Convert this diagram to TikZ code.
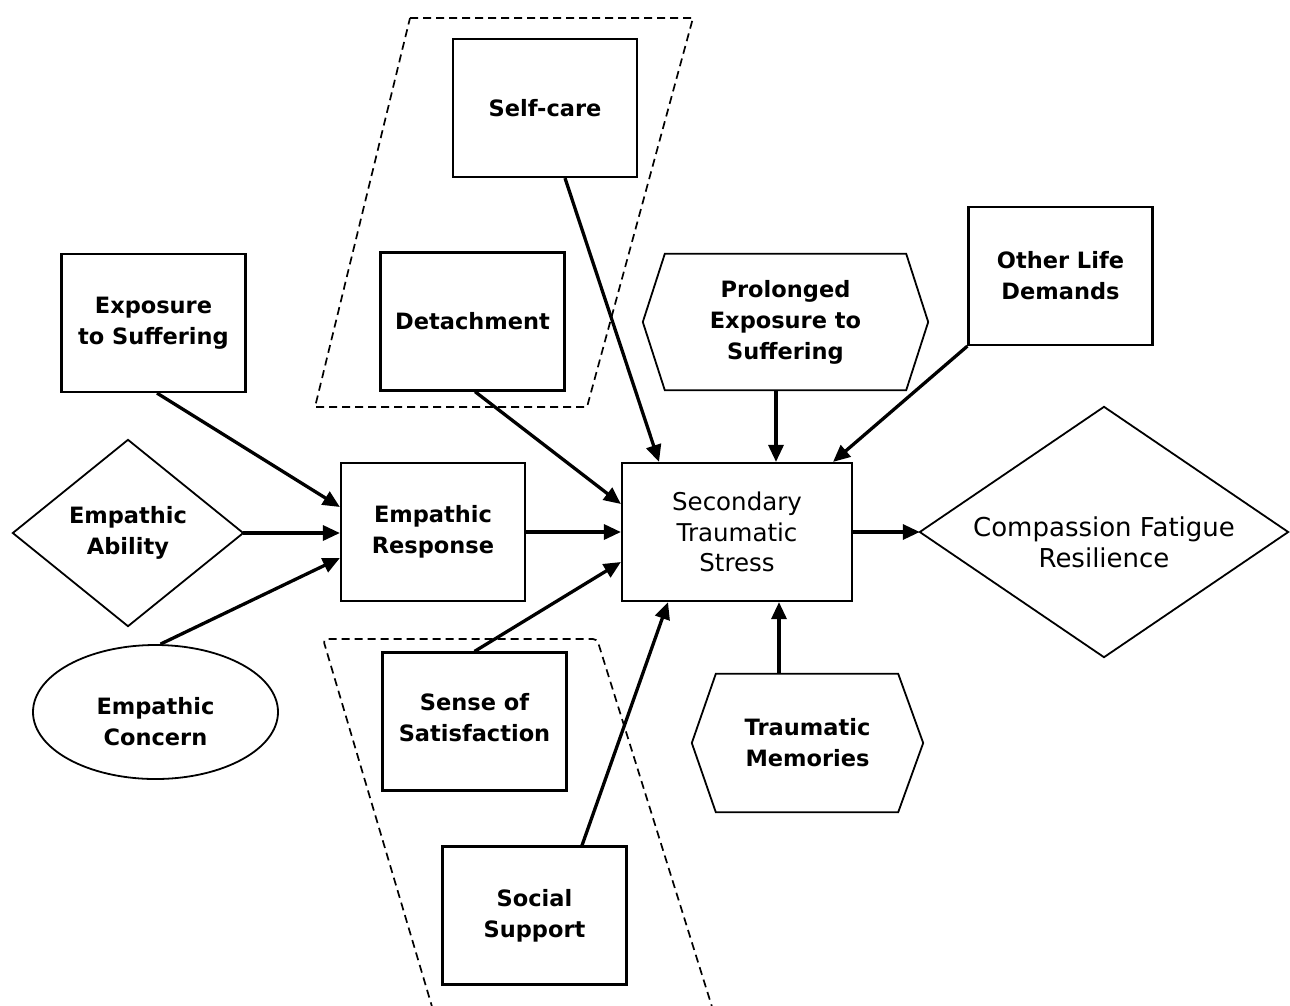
\documentclass[tikz,border=0pt]{standalone}
\usepackage{fontspec}
\setmainfont{DejaVu Sans}
\usetikzlibrary{arrows.meta,shapes.geometric}
\begin{document}
\begin{tikzpicture}[x=1pt,y=-1pt,
  lbl/.style={font=\fontsize{22.5}{31}\selectfont\bfseries, align=center, inner sep=0pt},
  box/.style={lbl, draw, line width=2.2pt, minimum width=184pt, minimum height=138pt},
  shp/.style={line width=1.8pt, line join=miter},
  arr/.style={line width=3.3pt, -{Triangle[length=17pt,width=15pt]}},
  grp/.style={line width=1.7pt, dash pattern=on 8pt off 5pt},
]
\useasboundingbox[fill=white] (0,0) rectangle (1290,1005);

% dashed groups
\draw[grp] (410,18) -- (693,18) -- (587,407) -- (315,407) -- cycle;
\draw[grp, rounded corners=4pt] (433,1010) -- (323,639) -- (597,639) -- (713,1010);

% boxes
\node[box] (self) at (545,108) {Self-care};
\node[box] (det) at (472.5,321.5) {Detachment};
\node[box] (expo) at (153.5,323) {Exposure\\to Suffering};
\node[box] (other) at (1060.5,276) {Other Life\\Demands};
\node[box] (er) at (433,532) {Empathic\\Response};
\node[box] (sense) at (474.5,721.5) {\raisebox{-3pt}[0pt][0pt]{\begin{tabular}{@{}c@{}}Sense of\\Satisfaction\end{tabular}}};
\node[box] (soc) at (534.5,915.5) {Social\\Support};
\node[draw, line width=2.2pt, minimum width=230pt, minimum height=138pt, inner sep=0pt,
      align=center, font=\fontsize{24.5}{30.5}\selectfont] (sts) at (737,532) {Secondary\\Traumatic\\Stress};

% hexagons
\node[lbl, minimum width=285pt, minimum height=136pt] (prol) at (785.5,322) {Prolonged\\Exposure to\\Suffering};
\draw[shp] ([xshift=22pt]prol.north west) -- ([xshift=-22pt]prol.north east) -- (prol.east)
  -- ([xshift=-22pt]prol.south east) -- ([xshift=22pt]prol.south west) -- (prol.west) -- cycle;
\node[lbl, minimum width=231pt, minimum height=138pt] (trau) at (807.5,743) {Traumatic\\Memories};
\draw[shp] ([xshift=24pt]trau.north west) -- ([xshift=-25pt]trau.north east) -- (trau.east)
  -- ([xshift=-25pt]trau.south east) -- ([xshift=24pt]trau.south west) -- (trau.west) -- cycle;

% diamonds
\node[lbl, minimum width=230pt, minimum height=186pt] (abil) at (128,533) {Empathic\\Ability};
\draw[shp] (abil.west) -- (abil.north) -- (abil.east) -- (abil.south) -- cycle;
\node[align=center, inner sep=0pt, font=\fontsize{26}{31}\selectfont, minimum width=368pt, minimum height=250pt] (cfr) at (1104,532) {\raisebox{-20pt}[0pt][0pt]{\begin{tabular}{@{}c@{}}Compassion Fatigue\\Resilience\end{tabular}}};
\draw[shp] (cfr.west) -- (cfr.north) -- (cfr.east) -- (cfr.south) -- cycle;

% ellipse
\node[lbl, ellipse, draw, shp, minimum width=245pt, minimum height=134pt] (conc) at (155.5,712) {\raisebox{-17pt}[0pt][0pt]{\begin{tabular}{@{}c@{}}Empathic\\Concern\end{tabular}}};

% connectors
\draw[arr] ([xshift=3.5pt]expo.south) -- ([yshift=25pt]er.west);
\draw[arr] (abil.east) -- (abil.east -| er.west);
\draw[arr] ([xshift=5pt]conc.north) -- ([yshift=-26pt]er.west);
\draw[arr] (er.east) -- (er.east -| sts.west);
\draw[arr] ([xshift=2.5pt]det.south) -- ([yshift=28pt]sts.west);
\draw[arr] ([xshift=20pt]self.south) -- ([xshift=-78pt]sts.north);
\draw[arr] ([xshift=-9.5pt]prol.south) -- ([xshift=-9.5pt]prol.south |- sts.north);
\draw[arr] (other.south west) -- ([xshift=96pt]sts.north);
\draw[arr] (sense.north) -- ([yshift=-30pt]sts.west);
\draw[arr] ([xshift=47.5pt]soc.north) -- ([xshift=-69pt]sts.south);
\draw[arr] ([xshift=-28.5pt]trau.north) -- ([xshift=-28.5pt]trau.north |- sts.south);
\draw[arr] (sts.east) -- (sts.east -| cfr.west);
\end{tikzpicture}
\end{document}
